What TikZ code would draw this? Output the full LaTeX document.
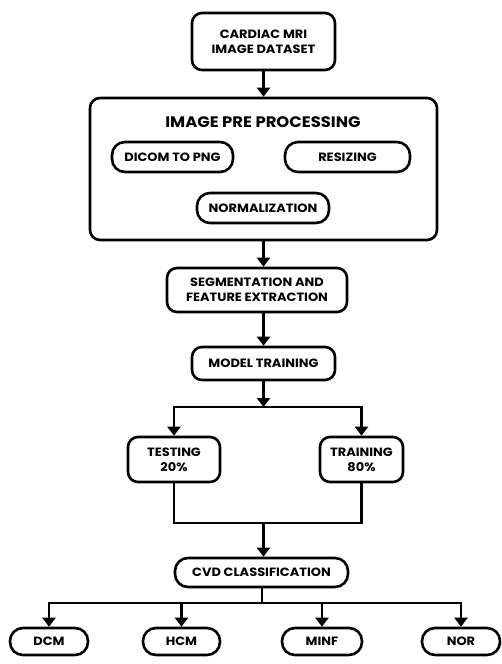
\documentclass[tikz,border=0pt]{standalone}
\usepackage{fontspec}
\setmainfont{Poppins}[FakeStretch=1.08]
\usetikzlibrary{arrows.meta,calc}
\begin{document}
\begin{tikzpicture}[x=1pt,y=-1pt,
  box/.style={draw=black,line width=2.6pt,rounded corners=10pt,fill=white,align=center,
    font=\fontsize{12}{15}\selectfont\bfseries,inner sep=0pt},
  pill/.style={box,rounded corners=13pt},
  conn/.style={line width=2.8pt,black},
  arr/.style={conn,-{Triangle[width=13pt,length=9pt]}}]
\useasboundingbox (0,0) rectangle (502,664);
% nodes
\node[box,minimum width=143pt,minimum height=57pt] (data) at (263.5,41.5) {CARDIAC MRI\\IMAGE DATASET};
\node[box,minimum width=347pt,minimum height=142pt] (pre) at (263.5,169) {};
\node[font=\fontsize{15.2}{18}\selectfont\bfseries,inner sep=0pt] (pretitle) at (263,122) {IMAGE PRE PROCESSING};
\node[pill,minimum width=121pt,minimum height=30pt] (dicom) at (172.5,157) {DICOM TO PNG};
\node[pill,minimum width=125pt,minimum height=30pt] (resize) at (347.5,157) {RESIZING};
\node[pill,minimum width=132pt,minimum height=30pt] (norm) at (263,208) {NORMALIZATION};
\node[box,minimum width=180pt,minimum height=44pt] (seg) at (257,290) {SEGMENTATION AND\\FEATURE EXTRACTION};
\node[box,minimum width=143pt,minimum height=33pt] (model) at (263.5,363.5) {MODEL TRAINING};
\node[box,minimum width=92pt,minimum height=45pt] (test) at (174,459.5) {TESTING\\20\%};
\node[box,minimum width=83pt,minimum height=45pt] (train) at (361.5,459.5) {TRAINING\\80\%};
\node[pill,minimum width=173pt,minimum height=29pt] (cvd) at (261.5,572.5) {CVD CLASSIFICATION};
\node[pill,minimum width=78pt,minimum height=27pt] (dcm) at (49,641.5) {DCM};
\node[pill,minimum width=77pt,minimum height=27pt] (hcm) at (181.5,641.5) {HCM};
\node[pill,minimum width=80pt,minimum height=27pt] (minf) at (322,641.5) {MINF};
\node[pill,minimum width=78pt,minimum height=27pt] (nor) at (461,641.5) {NOR};
% junctions
\coordinate (j1) at (263.5,407);
\coordinate (j2) at (263.5,523);
\coordinate (j3) at (262,603);
% connectors
\draw[arr] (data.south) -- (pre.north);
\draw[arr] (pre.south) -- (pre.south |- seg.north);
\draw[arr] (model.north |- seg.south) -- (model.north);
\draw[arr] (model.south) -- (j1);
\draw[arr] (j1) -| (test.north);
\draw[arr] (j1) -| (train.north);
\draw[conn] (test.south) |- (j2) -| (train.south);
\draw[arr] (j2) -- (j2 |- cvd.north);
\draw[conn] (cvd.south -| j3) -- (j3);
\draw[arr] (j3) -| (dcm.north);
\draw[arr] (j3) -| (hcm.north);
\draw[arr] (j3) -| (minf.north);
\draw[arr] (j3) -| (nor.north);
\end{tikzpicture}
\end{document}
